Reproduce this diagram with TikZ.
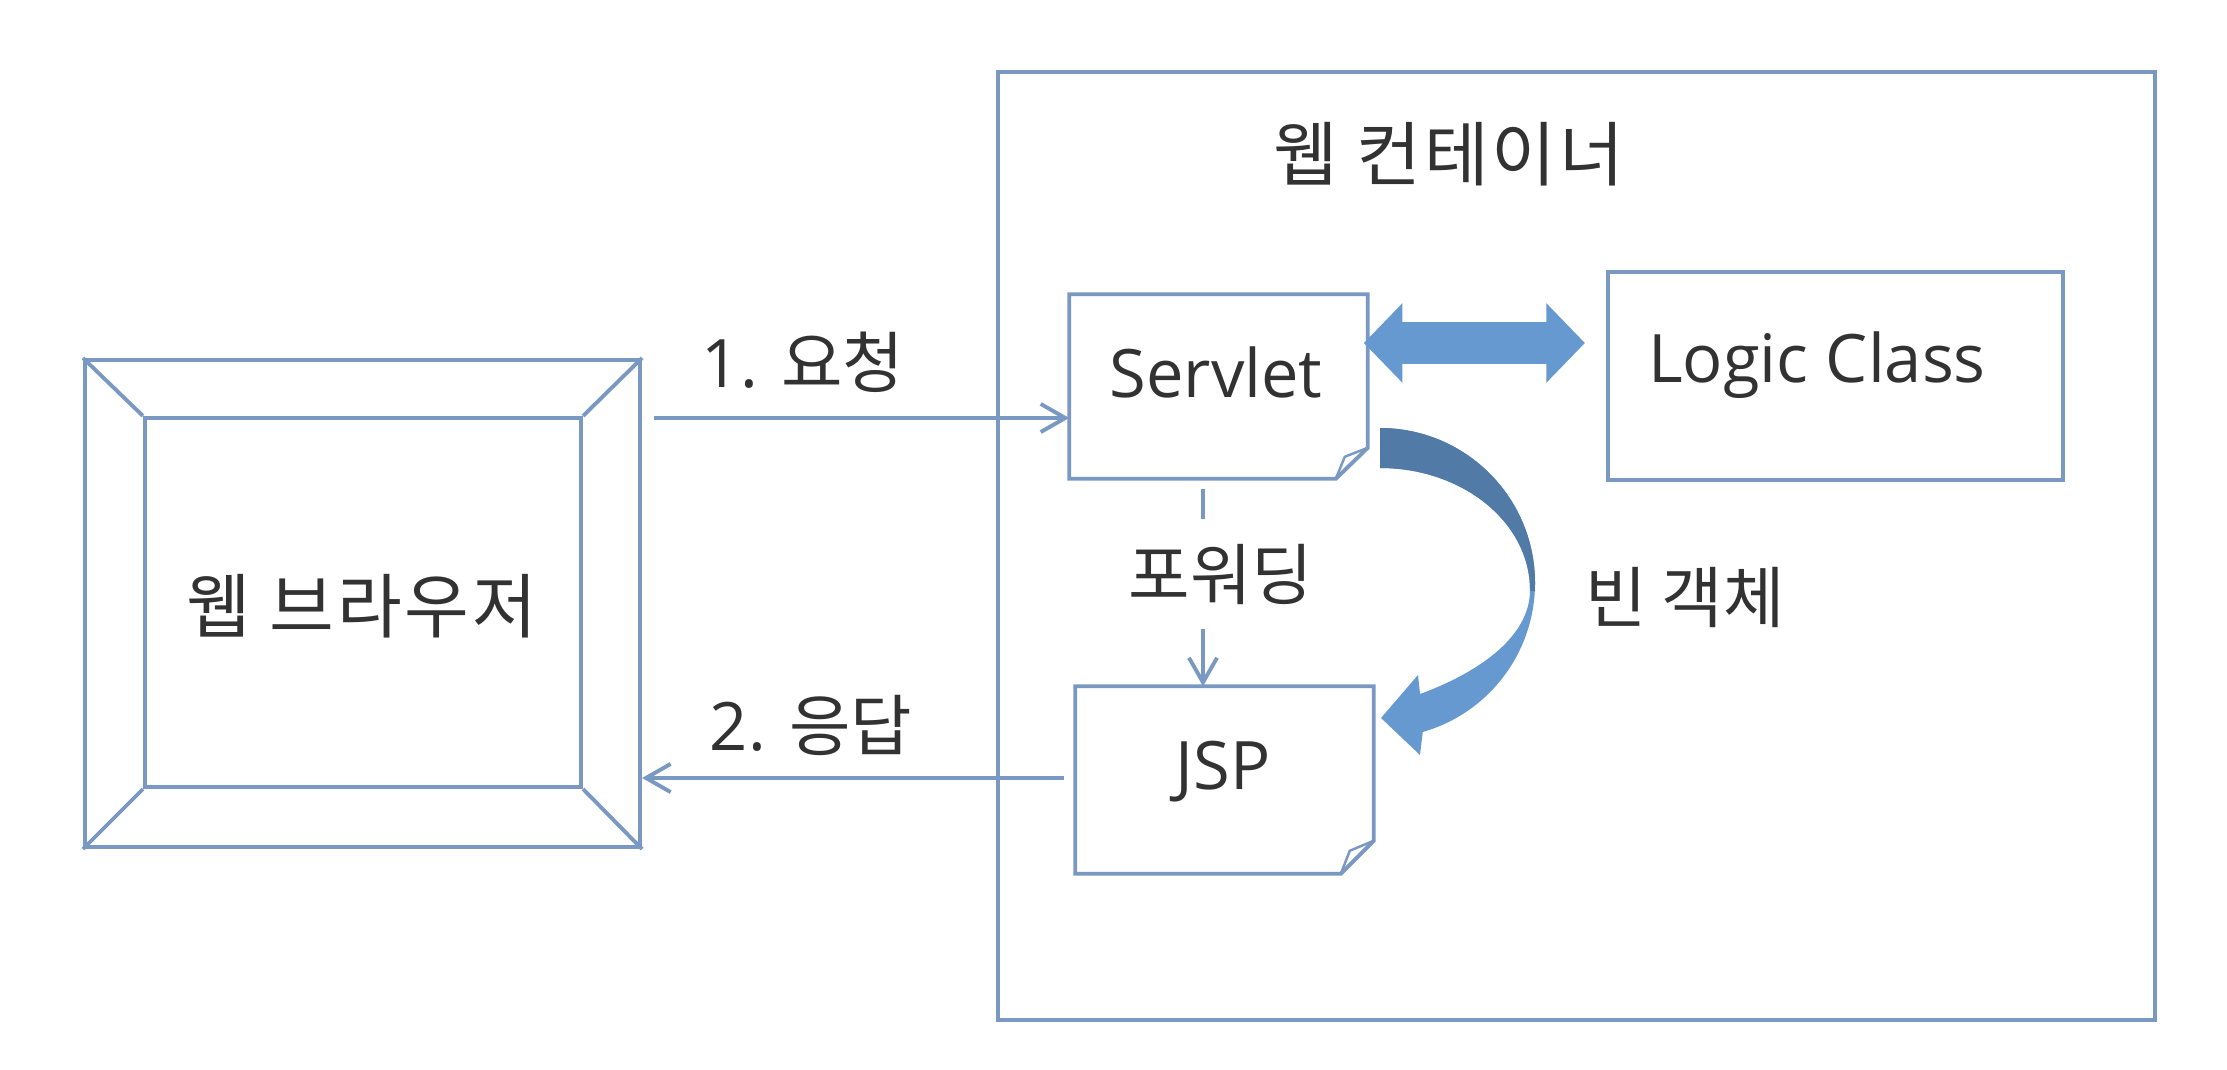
\documentclass[tikz,border=0pt]{standalone}
\usepackage{fontspec}
\setmainfont{Open Sans}
\newfontfamily\kr{Noto Sans CJK KR}
\newfontfamily\krw{Noto Sans CJK KR}[LetterSpace=4]
\usetikzlibrary{arrows.meta,calc}
\definecolor{edgec}{RGB}{122,153,194}
\definecolor{lblue}{RGB}{102,153,207}
\definecolor{dblue}{RGB}{82,122,166}
\definecolor{txtc}{RGB}{50,50,50}
\begin{document}
\begin{tikzpicture}[x=0.01cm,y=-0.01cm,
  frame/.style={draw=edgec,line width=1.1pt,rectangle,inner sep=0pt},
  ghost/.style={rectangle,inner sep=0pt},
  edgeline/.style={draw=edgec,line width=1.1pt,line join=miter},
  lbl/.style={font=\fontsize{19}{23}\selectfont,text=txtc,inner sep=0pt},
  biglbl/.style={font=\fontsize{20}{24}\selectfont\krw,text=txtc,inner sep=0pt},
  conn/.style={draw=edgec,line width=1.1pt,-{Straight Barb[length=7pt,width=8pt]}}]
\useasboundingbox[fill=white] (0,0) rectangle (2227,1070);

% web container
\node[frame,minimum width=11.57cm,minimum height=9.48cm] (container) at (1576.5,546) {};
\node[biglbl] (containerlbl) at (1449,154) {웹 컨테이너};

% web browser (bevelled frame)
\node[frame,minimum width=5.55cm,minimum height=4.87cm] (browser) at (362.5,603.5) {};
\node[frame,minimum width=4.36cm,minimum height=3.69cm] (browserin) at (363,602.5) {};
\draw[edgeline] (browser.north west) -- (browserin.north west);
\draw[edgeline] (browser.north east) -- (browserin.north east);
\draw[edgeline] (browser.south west) -- (browserin.south west);
\draw[edgeline] (browser.south east) -- (browserin.south east);
\node[biglbl] (browserlbl) at (362,606) {웹 브라우저};

% servlet (folded corner)
\node[ghost,minimum width=2.97cm,minimum height=1.83cm] (servlet) at (1218.5,386.5) {};
\draw[edgeline] (servlet.south west) -- (servlet.north west) -- (servlet.north east)
  -- ($(servlet.south east)+(0,-31)$) -- ($(servlet.south east)+(-32,0)$) -- cycle;
\draw[draw=edgec,line width=0.7pt] ($(servlet.south east)+(0,-31)$) -- ($(servlet.south east)+(-23,-22)$) -- ($(servlet.south east)+(-32,0)$);
\node[lbl] (servletlbl) at (1216,372) {Servlet};

% JSP (folded corner)
\node[ghost,minimum width=2.97cm,minimum height=1.86cm] (jsp) at (1224.5,780) {};
\draw[edgeline] (jsp.south west) -- (jsp.north west) -- (jsp.north east)
  -- ($(jsp.south east)+(0,-33)$) -- ($(jsp.south east)+(-33,0)$) -- cycle;
\draw[draw=edgec,line width=0.7pt] ($(jsp.south east)+(0,-33)$) -- ($(jsp.south east)+(-24,-23)$) -- ($(jsp.south east)+(-33,0)$);
\node[lbl] (jsplbl) at (1223,772) {JSP};

% logic class
\node[frame,minimum width=4.55cm,minimum height=2.08cm] (logic) at (1835.5,376) {};
\node[lbl] (logiclbl) at (1817,365) {Logic Class};

% 1. request
\coordinate (reqy) at (0,418);
\draw[conn] ($(browser.east |- reqy)+(12,0)$) -- (servlet.west |- reqy);
\node[lbl] (reqlbl) at (803,362) {1. {\kr 요청}};

% 2. response
\coordinate (resy) at (0,778);
\draw[conn] ($(jsp.west |- resy)+(-11,0)$) -- (browser.east |- resy);
\node[lbl] (reslbl) at (811,725) {2. {\kr 응답}};

% forwarding
\coordinate (fwdx) at (1203,0);
\draw[conn] ($(servlet.south -| fwdx)+(0,10)$) -- (jsp.north -| fwdx);
\node[lbl,fill=white,inner xsep=3pt,inner ysep=7pt] (fwdlbl) at (1221,574) {\kr 포워딩};

% servlet <-> logic class
\coordinate (dbly) at (0,343);
\draw[draw=lblue,line width=11.7pt,
  {Triangle[length=11pt 0 0,width=22pt 0 0]}-{Triangle[length=11pt 0 0,width=22pt 0 0]}]
  ($(servlet.east |- dbly)+(-4,0)$) -- ($(logic.west |- dbly)+(-21,0)$);

% bean object curved arrow
\fill[lblue] (1380,428) arc[start angle=-90,end angle=74,radius=155]
  -- (1420,755) -- (1381,718) -- (1418,675) -- (1420,694)
  .. controls (1472,675) and (1530,640) .. (1530,590)
  arc[start angle=0,end angle=-90,x radius=150,y radius=122] -- cycle;
\begin{scope}
\clip (1300,400) rectangle (1600,590);
\fill[dblue] (1380,428) arc[start angle=-90,end angle=74,radius=155]
  -- (1420,755) -- (1381,718) -- (1418,675) -- (1420,694)
  .. controls (1472,675) and (1530,640) .. (1530,590)
  arc[start angle=0,end angle=-90,x radius=150,y radius=122] -- cycle;
\end{scope}
\node[lbl] (beanlbl) at (1685,597) {\kr 빈 객체};
\end{tikzpicture}
\end{document}
